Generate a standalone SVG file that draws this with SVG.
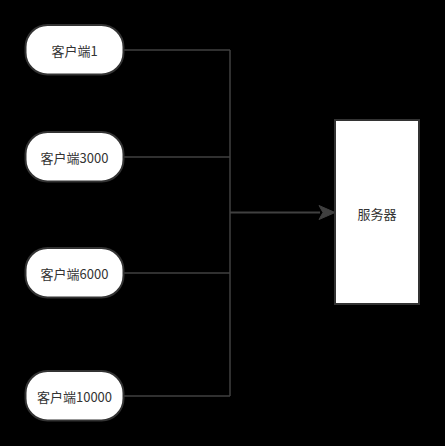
<svg xmlns="http://www.w3.org/2000/svg" width="445" height="446" viewBox="0 0 445 446">
<style>
.bg{fill:#000}
.client{fill:#fff;stroke:#333;stroke-width:2}
.server{fill:#fff;stroke:#333;stroke-width:2}
.lbl{font-family:"Noto Sans CJK SC","Liberation Sans",sans-serif;font-size:13px;fill:#333;text-anchor:middle;dominant-baseline:central}
.conn{fill:none;stroke:#404040;stroke-width:1.5}
.arrow{fill:none;stroke:#404040;stroke-width:2}
</style>
<rect class="bg" x="0" y="0" width="445" height="446"/>
<g id="connectors">
<path class="conn" d="M124,50 H230"/>
<path class="conn" d="M124,157 H230"/>
<path class="conn" d="M124,273 H230"/>
<path class="conn" d="M124,396 H230"/>
<path class="conn" d="M230,50 V396"/>
<path class="arrow" d="M230,212.5 H320"/>
<path d="M319,205.5 L335,212.5 L319,219.5 L323,212.5 Z" fill="#404040" stroke="#404040" stroke-width="1"/>
</g>
<g id="client1">
<rect class="client" x="25.5" y="25" width="98" height="49.5" rx="22" ry="22"/>
<text class="lbl" x="74.5" y="50">客户端1</text>
</g>
<g id="client3000">
<rect class="client" x="25.5" y="132" width="98" height="49.5" rx="22" ry="22"/>
<text class="lbl" x="74.5" y="157">客户端3000</text>
</g>
<g id="client6000">
<rect class="client" x="25.5" y="248" width="98" height="49.5" rx="22" ry="22"/>
<text class="lbl" x="74.5" y="273">客户端6000</text>
</g>
<g id="client10000">
<rect class="client" x="25.5" y="371" width="98" height="49.5" rx="22" ry="22"/>
<text class="lbl" x="74.5" y="396">客户端10000</text>
</g>
<g id="server">
<rect class="server" x="335" y="120" width="84" height="184"/>
<text class="lbl" x="377" y="213">服务器</text>
</g>
</svg>
